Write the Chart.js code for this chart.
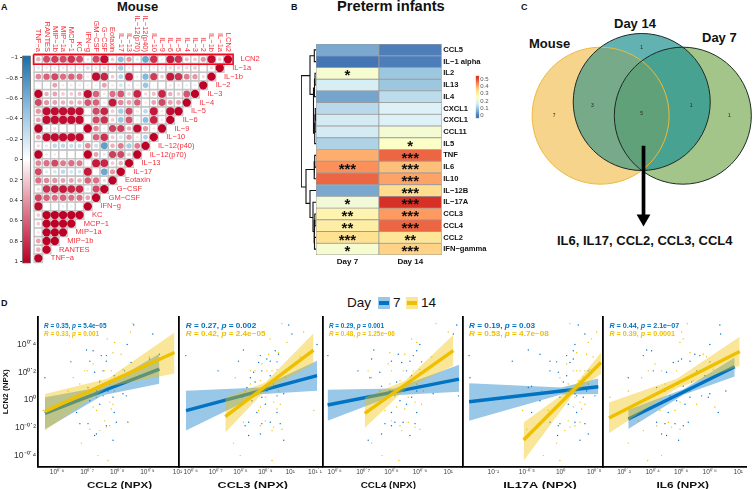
<!DOCTYPE html>
<html>
<head>
<meta charset="utf-8">
<title>LCN2 cytokine correlations</title>
<script src="https://cdn.jsdelivr.net/npm/chart.js@4/dist/chart.umd.min.js"></script>
<style>
  html, body { margin: 0; padding: 0; background: #fff; width: 756px; height: 489px; overflow: hidden; }
  canvas { position: absolute; left: 0; top: 0; }
  .lbl { position: absolute; font-family: "Liberation Sans", Arial, sans-serif; line-height: 1; white-space: nowrap; color: #111; }
  .b { font-weight: bold; }
  .swatch { position: absolute; width: 12px; height: 12px; }
  .swatch i { position: absolute; left: 1px; right: 1px; top: 4px; height: 3.5px; }
</style>
</head>
<body>
<div class="lbl b" style="left:1px;top:3px;font-size:9px">A</div>
<div class="lbl b" style="left:117px;top:0px;font-size:13px">Mouse</div>
<div class="lbl b" style="left:291px;top:3px;font-size:9px">B</div>
<div class="lbl b" style="left:337px;top:-1px;font-size:14.7px">Preterm infants</div>
<div class="lbl b" style="left:521px;top:3px;font-size:9px">C</div>
<div class="lbl b" style="left:529px;top:37px;font-size:13px">Mouse</div>
<div class="lbl b" style="left:614px;top:17px;font-size:13px">Day 14</div>
<div class="lbl b" style="left:702px;top:31px;font-size:13px">Day 7</div>
<div class="lbl b" style="left:557px;top:234px;font-size:13px">IL6, IL17, CCL2, CCL3, CCL4</div>
<div class="lbl b" style="left:1px;top:299px;font-size:9px">D</div>
<div class="lbl" style="left:347px;top:296px;font-size:13.5px">Day</div>
<div class="swatch" style="left:378px;top:297px;background:rgba(0,115,194,.4)"><i style="background:#0073C2"></i></div>
<div class="lbl" style="left:393px;top:296px;font-size:13.5px">7</div>
<div class="swatch" style="left:405.5px;top:297px;background:rgba(239,192,0,.4)"><i style="background:#EFC000"></i></div>
<div class="lbl" style="left:421px;top:296px;font-size:13.5px">14</div>

<script>
// A: mouse correlation matrix (upper triangle, one list per row)
const corrNames = ['TNF−a', 'RANTES', 'MIP−1b', 'MIP−1a', 'MCP−1', 'KC', 'IFN−g', 'GM−CSF', 'G−CSF', 'Eotaxin', 'IL−17', 'IL−13',
  'IL−12(p70)', 'IL−12(p40)', 'IL−10', 'IL−9', 'IL−6', 'IL−5', 'IL−4', 'IL−3', 'IL−2', 'IL−1b', 'IL−1a', 'LCN2'];
const corrTicks = [-1, -0.8, -0.6, -0.4, -0.2, 0, 0.2, 0.4, 0.6, 0.8, 1];
const corrLCN2 = [.3, .7, .75, .7, .8, .7, -.15, .7, .95, .2, -.5, .4, -.15, -.65, .8, -.1, .9, .8, .25, .2, .4, .95, .2, 1];
const corrIL1a = [-.15, .1, .1, .1, .1, .1, -.2, .1, .15, .1, -.4, .1, -.05, -.1, .1, .1, .15, .15, .15, .2, 0, .15, 1];
const corrIL1b = [.45, .6, .7, .55, .6, .55, .1, .95, .85, .2, -.35, .9, .1, -.55, .75, .2, .9, .8, .5, .4, .15, 1];
const corrIL2 = [0, .05, .35, .1, .1, .1, .08, -.1, .35, .1, -.2, .1, -.1, -.45, -.05, 0, .1, .1, -.1, -.1, 1];
const corrIL3 = [1, .3, .35, .2, .2, .25, .95, .6, .1, .55, .65, .2, .85, .15, .25, .85, .3, .2, .65, 1];
const corrIL4 = [.7, .4, .35, .3, .3, .3, .65, .6, .1, .9, .45, .35, .6, .1, .35, .7, .35, .35, 1];
const corrIL5 = [.4, .95, .95, .95, .95, .95, 0, .7, .85, .2, -.4, .7, .1, -.3, .9, .1, .95, 1];
const corrIL6 = [.35, .95, .95, .95, .95, .95, 0, .7, .8, .2, -.45, .65, -.1, -.5, .85, .1, 1];
const corrIL9 = [1, .1, .15, .03, 0, 0, 1, .45, -.1, .75, .75, .3, .95, .4, .1, 1];
const corrIL10 = [.35, .95, .95, .95, .95, .95, .03, .6, .8, .2, -.2, .4, .1, -.35, 1];
const corrP40 = [.15, -.15, -.3, -.3, -.25, -.25, .45, -.25, -.7, .3, .5, -.4, .5, 1];
const corrP70 = [1, .1, .1, .03, 0, 0, 1, .35, -.15, .75, .7, .2, 1];
const corrIL13 = [.45, .55, .7, .5, .55, .5, .05, .9, .85, .2, .3, 1];
const corrIL17 = [.7, -.15, -.2, -.3, -.2, -.2, .9, .05, -.65, .4, 1];
const corrEotaxin = [.55, .45, .4, .35, .35, .3, .6, .55, .15, 1];
const corrGCSF = [.15, .8, .85, .9, .85, .85, -.15, .7, 1];
const corrGMCSF = [.7, .6, .55, .6, .55, .55, .35, 1];
const corrIFNg = [.95, 0, -.05, -.1, -.1, -.03, 1];
const corrKC = [.2, 1, 1, 1, 1, 1];
const corrMCP1 = [.2, 1, 1, 1, 1];
const corrMIP1a = [.1, 1, 1, 1];
const corrMIP1b = [.35, 1, 1];
const corrRANTES = [.3, 1];
const corrTNFa = [1];
const corrRows = [corrLCN2, corrIL1a, corrIL1b, corrIL2, corrIL3, corrIL4, corrIL5, corrIL6, corrIL9, corrIL10, corrP40, corrP70,
  corrIL13, corrIL17, corrEotaxin, corrGCSF, corrGMCSF, corrIFNg, corrKC, corrMCP1, corrMIP1a, corrMIP1b, corrRANTES, corrTNFa];

// B: heatmap
const heatRows = ['CCL5', 'IL−1 alpha', 'IL2', 'IL13', 'IL4', 'CXCL1', 'CXCL1', 'CCL11', 'IL5', 'TNF', 'IL6', 'IL10', 'IL−12B', 'IL−17A', 'CCL3', 'CCL4', 'CCL2', 'IFN−gamma'];
const heatDay7 = [.06, 0, .235, .165, .055, .13, .16, .16, .12, .40, .43, .47, .06, .22, .29, .31, .345, .235];
const heatDay14 = [.01, .01, .10, .10, .135, .17, .17, .23, .25, .47, .38, .41, .35, .52, .42, .47, .33, .36];
const starsDay7 = ['', '', '*', '', '', '', '', '', '', '', '***', '', '', '*', '**', '**', '***', '*'];
const starsDay14 = ['', '', '', '', '', '', '', '', '*', '***', '***', '***', '***', '***', '***', '***', '**', '***'];
const heatLegendTicks = [0, 0.1, 0.2, 0.3, 0.4, 0.5];
// each branch: child height, child row, node height, other row, other child height
const dendroBranches = [
  [0, .5, 1.7, 1.5, 0], [0, 5.5, .7, 6.5, 0], [.7, 6, 1, 7.5, 0], [1, 6.75, 1.3, 8.5, 0], [0, 2.5, 1, 3.5, 0], [1, 3, 1.5, 4.5, 0],
  [1.5, 3.75, 2.5, 7.6, 1.3], [1.7, 1, 6, 4.3, 2.5], [0, 9.5, 1.3, 10.5, 0], [1.3, 10, 1.8, 11.5, 0], [0, 14.5, 1.2, 15.5, 0],
  [0, 16.5, 1.5, 17.5, 0], [1.2, 15, 2, 17, 1.5], [2, 16, 3, 13.5, 0], [3, 14.8, 6, 12.5, 0], [1.8, 10.7, 10, 13.6, 6], [6, 2.7, 14.7, 12.2, 10]
];

// C: venn
const vennX = [-.6, 0, .6];
const vennY = [0, .2, 0];
const vennCountX = [-1.28, -.72, 0, 0, .72, 1.28];
const vennCountY = [0, .15, .035, .99, .15, 0];
const vennCounts = ['7', '3', '5', '1', '1', '1'];
const arrowX = [.026, .026];
const arrowY = [-.44, -1.5];

// D: LCN2 is shared by the five panels, each panel has its own x values
const lcn2Ticks = [.4, .2, 0, -.2, -.4];
const lcn2Day7 = [.54, .475, .40, .36, .355, .33, .32, .32, .295, .28, .28, .275, .27, .21, .21, .20, .175, .16, .10, .09, .065, .065, .045, .03, .03, .02, .02, -.005, -.03, -.09, -.09, -.16, -.16, -.17, -.17, -.185, -.245, -.255, -.29, .13];
const lcn2Day14 = [.55, .49, .44, .415, .34, .33, .31, .26, .21, .21, .21, .21, .22, .16, .165, .115, .14, .115, .065, .02, -.015, -.03, -.05, -.065, -.075, -.15, -.16, -.185, -.195, -.21, -.22, -.31, -.40, -.435, .065, -.075];

const ccl2Day7 = [.855, .918, .833, .698, .72, .94, .747, .764, .907, .709, .764, .646, .846, .753, .824, .725, .79, .56, .80, .703, .731, .769, .819, .753, .83, .67, .786, .709, .742, .79, .665, .797, .835, .676, .703, .764, .731, .725, .786, .742];
const ccl2Day14 = [.852, .844, .767, .791, .786, .813, .907, .72, .692, .70, .758, .78, .819, .654, .808, .676, .742, .775, .637, .731, .775, .786, .72, .78, .555, .758, .835, .775, .764, .709, .742, .681, .736, .769, .791, .731];
const ccl3Day7 = [.994, 1.007, 1.108, .812, .94, .953, .88, .58, .906, .792, .92, .947, .873, .71, .886, .853, .92, .84, .933, .826, .866, .906, .974, .853, .947, .806, .886, .846, .9, .866, .947, .92, .833, .886, .96, .819, .88, .833, .974, .859];
const ccl3Day14 = [.967, 1.054, .92, .987, .953, .913, 1.04, .886, .84, .859, .906, .927, .947, .779, .98, .84, .88, .933, .819, .9, .933, .96, .88, .947, 1.095, .9, .812, .88, .933, .967, .927, .772, .799, .927, .953, .873];
const ccl4Day7 = [1.03, 1.018, .9, .738, .889, .824, .877, .576, .73, .8, .865, .906, .836, .682, .853, .759, .871, .724, .765, .836, .794, .889, .947, .812, 1.036, .783, .871, .83, .853, .8, .889, .841, .812, .777, .883, .8, .765, .865, .718, .818];
const ccl4Day14 = [.957, 1.0, .871, .889, .794, .847, .942, .788, .718, .8, .841, .877, .9, .73, .865, .794, .83, .889, .759, .859, .883, .906, .818, .847, .712, .8, .859, .83, .883, .9, .836, .73, .767, .826, .912, .777];
const il17Day7 = [.262, .361, .213, -.48, .188, -.307, .089, -1.36, .188, -.718, -.158, -.059, .139, -.158, .411, -.035, .089, -1.347, -.431, -.48, .139, .386, .213, .238, .51, -.01, .337, -.307, .114, -.431, .238, .213, -.158, -.01, .361, -.035, .411, -.045, .287, .04];
const il17Day14 = [.139, .535, .46, .411, .238, .386, .485, .089, .188, .238, .287, .361, .436, -.01, .337, .114, .262, .411, -.282, .213, .287, .361, .188, .312, -.564, .114, .287, .213, .139, -.505, .064, -.059, -.257, -.01, .238, -.183];
const il6Day7 = [.871, .876, .801, .359, .393, .696, .335, .731, .603, .58, .662, .801, .545, .405, .708, .498, .766, .23, .615, .428, .487, .913, .801, .522, .743, .662, .79, .568, .627, .86, .51, .65, .428, .557, .487, .615, .463, .498, .582, .673];
const il6Day14 = [.643, .603, .615, .592, .662, .755, .778, .417, .37, .463, .568, .731, .825, .324, .638, .487, .685, .58, .23, .102, .592, .708, .836, .207, .452, .3, .51, .428, .533, .592, .335, .23, .463, .366, .662, .557];

// regression lines with their confidence bands
const ccl2X7 = [.56, .752, .94], ccl2Fit7 = [-.096, .065, .223], ccl2Lo7 = [-.21, .035, .117], ccl2Hi7 = [.02, .095, .333];
const ccl2X14 = [.56, .77, .99], ccl2Fit14 = [-.082, .125, .342], ccl2Lo14 = [-.22, .095, .191], ccl2Hi14 = [.043, .155, .486];
const ccl3X7 = [.581, .879, 1.108], ccl3Fit7 = [-.077, .066, .175], ccl3Lo7 = [-.22, .042, .067], ccl3Hi7 = [.067, .09, .283];
const ccl3X14 = [.739, .9, 1.094], ccl3Fit14 = [-.12, .098, .36], ccl3Lo14 = [-.233, .069, .259], ccl3Hi14 = [.019, .127, .48];
const ccl4X7 = [.575, .81, 1.038], ccl4Fit7 = [-.036, .059, .151], ccl4Lo7 = [-.149, .035, .06], ccl4Hi7 = [.074, .083, .254];
const ccl4X14 = [.706, .85, 1.018], ccl4Fit14 = [-.096, .112, .355], ccl4Lo14 = [-.201, .082, .247], ccl4Hi14 = [.019, .142, .47];
const il17X7 = [-1.36, .01, .56], il17Fit7 = [-.012, .065, .096], il17Lo7 = [-.149, .04, .043], il17Hi7 = [.12, .09, .155];
const il17X14 = [-.55, .21, .6], il17Fit14 = [-.288, .081, .27], il17Lo14 = [-.437, .056, .187], il17Hi14 = [-.161, .106, .342];
const il6X7 = [.23, .62, .975], il6Fit7 = [-.137, .06, .24], il6Lo7 = [-.209, .04, .17], il6Hi7 = [-.07, .08, .306];
const il6X14 = [.095, .57, 1.01], il6Fit14 = [-.13, .119, .35], il6Lo14 = [-.24, .084, .247], il6Hi14 = [-.017, .154, .455];

const panelNames = ['CCL2 (NPX)', 'CCL3 (NPX)', 'CCL4 (NPX)', 'IL17A (NPX)', 'IL6 (NPX)'];
const panelTicks = [[.6, .7, .8, .9, 1], [.6, .7, .8, .9, 1, 1.1], [.6, .7, .8, .9, 1], [-1, -.5, 0, .5], [.2, .4, .6, .8, 1]];
const rDay7 = ['0.35', '0.27', '0.29', '0.19', '0.44'];
const pDay7 = ['5.4e−05', '0.002', '0.001', '0.03', '2.1e−07'];
const rDay14 = ['0.33', '0.42', '0.48', '0.53', '0.39'];
const pDay14 = ['0.001', '2.4e−05', '1.25e−06', '4.7e−08', '0.0001'];

// ---- layout of the figure, pixels
const W = 756, H = 489;
const FONT = '"Liberation Sans", Arial, sans-serif';
const BLUE = '#0073C2', YELLOW = '#EFC000';
const panelLeft = [37.7, 179.3, 322.5, 462.7, 603];
const panelRight = [179.3, 322.5, 462.7, 603, 746.7];
const panelXMin = [.536, .554, .557, -1.455, .053];
const panelXMax = [1.006, 1.13, 1.051, .63, 1.059];
const statStretch = [1, 1.28, 1, 1.28, 1.12];
const nameStretch = [1.25, 1.35, 1.06, 1.38, 1.27];
const nameCenter = [119.5, 252.8, 388.3, 540, 682.7];

Chart.defaults.animation = false;
Chart.defaults.responsive = false;
Chart.defaults.events = [];
Chart.defaults.font.family = FONT;
Chart.defaults.plugins.legend.display = false;
Chart.defaults.plugins.tooltip.enabled = false;

function addCanvas() {
  const c = document.createElement('canvas');
  c.width = W;
  c.height = H;
  document.body.appendChild(c);
  return c;
}

function box(left, top, right, bottom) {
  return { autoPadding: false, padding: { left, top, right: W - right, bottom: H - bottom } };
}

// fixed room for an axis, so the plot area lands where it should
function room(size) {
  return s => {
    if (s.isHorizontal()) s.height = size; else s.width = size;
    s.paddingLeft = s.paddingRight = s.paddingTop = s.paddingBottom = 0;
  };
}

function mix(a, b, t) {
  const pa = [1, 3, 5].map(i => parseInt(a.slice(i, i + 2), 16));
  const pb = [1, 3, 5].map(i => parseInt(b.slice(i, i + 2), 16));
  return 'rgb(' + pa.map((v, i) => Math.round(v + (pb[i] - v) * t)).join(',') + ')';
}

function corrColor(v) {
  const t = Math.abs(v);
  if (v < 0) return t < .5 ? mix('#ffffff', '#8DC0E0', t / .5) : mix('#8DC0E0', '#1A70AC', (t - .5) / .5);
  return t < .5 ? mix('#ffffff', '#E07A8F', t / .5) : mix('#E07A8F', '#BE0026', (t - .5) / .5);
}

const heatStops = ['#4575B4', '#91BFDB', '#E0F3F8', '#FFFFBF', '#FEE090', '#FC8D59', '#D73027'];
function heatColor(v) {
  const p = Math.max(0, Math.min(1, v / .52)) * 6;
  const i = Math.min(5, Math.floor(p));
  return mix(heatStops[i], heatStops[i + 1], p - i);
}

function powerLabel(v) {
  const sup = { '0': '⁰', '1': '¹', '2': '²', '3': '³', '4': '⁴', '5': '⁵', '6': '⁶', '7': '⁷', '8': '⁸', '9': '⁹', '.': '˙', '-': '⁻' };
  return '10' + String(v).split('').map(ch => sup[ch]).join('');
}

// ---- A: correlation circles
const cellPoints = [], circlePoints = [];
corrRows.forEach((row, r) => row.forEach((v, c) => {
  cellPoints.push({ x: c, y: r });
  circlePoints.push({ x: c, y: r, v });
}));

new Chart(addCanvas(), {
  type: 'scatter',
  data: {
    datasets: [
      { data: [{ x: -.58, y: -.57 }, { x: 23.62, y: -.57 }, { x: 23.62, y: .57 }, { x: -.58, y: .57 }, { x: -.58, y: -.57 }],
        showLine: true, borderColor: '#EE0A1C', borderWidth: 1.6, pointRadius: 0, clip: false },
      { data: circlePoints, pointStyle: 'circle', borderWidth: 0,
        pointRadius: c => 4.15 * Math.sqrt(Math.abs(c.raw.v)),
        backgroundColor: c => corrColor(c.raw.v) },
      { data: cellPoints, pointStyle: 'rect', pointRadius: 5.95, backgroundColor: '#fff', borderColor: '#c6c6c6', borderWidth: 1.4, clip: false }
    ]
  },
  options: {
    layout: box(34.2, 55, 232.1, 262.6),
    scales: {
      x: { type: 'linear', min: -.5, max: 23.5, display: false },
      y: { type: 'linear', min: -.5, max: 23.5, reverse: true, display: false }
    }
  },
  plugins: [{
    id: 'corrLabels',
    afterDraw(chart) {
      const { ctx, scales: { x, y } } = chart;
      ctx.save();
      ctx.font = '7.5px ' + FONT;
      ctx.fillStyle = '#F2303A';
      ctx.textBaseline = 'middle';
      corrNames.forEach((name, c) => {
        // column name on top, reads downwards
        ctx.save();
        ctx.translate(x.getPixelForValue(c), 52);
        ctx.rotate(Math.PI / 2);
        ctx.textAlign = 'right';
        ctx.fillText(name, 0, 0);
        ctx.restore();
        // row name next to the diagonal
        const r = 23 - c;
        ctx.textAlign = 'left';
        ctx.fillText(name, x.getPixelForValue(c) + 12.5, y.getPixelForValue(r));
      });
      ctx.restore();
    }
  }]
});

// colour key of A
new Chart(addCanvas(), {
  type: 'bar',
  data: {
    labels: [''],
    datasets: [{
      data: [[-1.02, 1.02]],
      barPercentage: 1,
      categoryPercentage: 1,
      borderColor: '#444',
      borderWidth: 1,
      borderSkipped: false,
      backgroundColor: c => {
        const { chart } = c;
        if (!chart.chartArea) return '#fff';
        const y = chart.scales.y;
        const g = chart.ctx.createLinearGradient(0, y.getPixelForValue(-1), 0, y.getPixelForValue(1));
        for (let i = 0; i <= 20; i++) g.addColorStop(i / 20, corrColor(-1 + i / 10));
        return g;
      }
    }]
  },
  options: {
    layout: box(0, 55.5, 30.7, 263.5),
    scales: {
      x: { display: false },
      y: {
        min: -1.02, max: 1.02, reverse: true, afterFit: room(22.3),
        afterBuildTicks: s => { s.ticks = corrTicks.map(value => ({ value })); },
        grid: { drawOnChartArea: false, tickLength: 2, color: '#222' },
        border: { display: false },
        ticks: { autoSkip: false, padding: 2.5, font: { size: 6 }, color: '#222', callback: v => String(v).replace('-', '−') }
      }
    }
  }
});

// ---- B: dendrogram, heatmap, colour key
new Chart(addCanvas(), {
  type: 'scatter',
  data: {
    datasets: dendroBranches.map(b => ({
      data: [{ x: b[0], y: b[1] }, { x: b[2], y: b[1] }, { x: b[2], y: b[3] }, { x: b[4], y: b[3] }],
      showLine: true, borderColor: '#111', borderWidth: 1.1, pointRadius: 0
    }))
  },
  options: {
    layout: box(301, 44, 316, 255),
    scales: {
      x: { type: 'linear', min: 0, max: 15, reverse: true, display: false },
      y: { type: 'linear', min: 0, max: 18, reverse: true, display: false }
    }
  }
});

new Chart(addCanvas(), {
  type: 'bar',
  data: {
    labels: heatRows,
    datasets: [heatDay7, heatDay14].map(vals => ({
      data: vals.map(() => 1),
      backgroundColor: vals.map(heatColor),
      borderColor: '#9c9c9c',
      borderWidth: .8,
      borderSkipped: false,
      barPercentage: 1,
      categoryPercentage: 1
    }))
  },
  options: {
    indexAxis: 'y',
    layout: box(316, 44, 500, 270),
    scales: {
      x: {
        type: 'linear', stacked: true, min: 0, max: 2, afterFit: room(15),
        afterBuildTicks: s => { s.ticks = [.5, 1.5].map(value => ({ value })); },
        grid: { display: false, drawTicks: false }, border: { display: false },
        ticks: { autoSkip: false, maxRotation: 0, padding: 2, color: '#111', font: { size: 8, weight: 'bold' }, callback: v => (v < 1 ? 'Day 7' : 'Day 14') }
      },
      y: {
        position: 'right', stacked: true, afterFit: room(58.3),
        grid: { display: false, drawTicks: false }, border: { display: false },
        ticks: { autoSkip: false, padding: 1.5, color: '#111', font: { size: 7.6, weight: 'bold' } }
      }
    }
  },
  plugins: [{
    id: 'stars',
    afterDraw(chart) {
      const { ctx, scales: { x, y } } = chart;
      ctx.save();
      ctx.font = 'bold 15px ' + FONT;
      ctx.fillStyle = '#111';
      ctx.textAlign = 'center';
      ctx.textBaseline = 'middle';
      [starsDay7, starsDay14].forEach((stars, d) => stars.forEach((s, i) => {
        if (s) ctx.fillText(s, x.getPixelForValue(d + .5), y.getPixelForValue(i) + 3);
      }));
      ctx.restore();
    }
  }]
});

new Chart(addCanvas(), {
  type: 'bar',
  data: {
    labels: [''],
    datasets: [{
      data: [[-.035, .545]],
      barPercentage: 1,
      categoryPercentage: 1,
      backgroundColor: c => {
        const { chart } = c;
        if (!chart.chartArea) return '#fff';
        const y = chart.scales.y;
        const g = chart.ctx.createLinearGradient(0, y.getPixelForValue(-.035), 0, y.getPixelForValue(.545));
        for (let i = 0; i <= 12; i++) g.addColorStop(i / 12, heatColor(-.035 + .58 * i / 12));
        return g;
      }
    }]
  },
  options: {
    layout: box(475.7, 75.7, 500, 118.3),
    scales: {
      x: { display: false },
      y: {
        position: 'right', min: -.035, max: .545, afterFit: room(20.8),
        afterBuildTicks: s => { s.ticks = heatLegendTicks.map(value => ({ value })); },
        grid: { display: false, drawTicks: false }, border: { display: false },
        ticks: { autoSkip: false, padding: 1, color: '#555', font: { size: 6 } }
      }
    }
  }
});

// ---- C: venn diagram
const vennR = 68.5;
const vennPoint = i => ({ x: vennX[i], y: vennY[i], r: vennR });
new Chart(addCanvas(), {
  type: 'bubble',
  data: {
    datasets: [
      { type: 'scatter', data: [{ x: arrowX[1], y: arrowY[1] }], pointStyle: 'triangle', rotation: 180, pointRadius: 8, backgroundColor: '#000', borderWidth: 0 },
      { type: 'scatter', data: [{ x: arrowX[0], y: arrowY[0] }, { x: arrowX[1], y: arrowY[1] }], showLine: true, borderColor: '#000', borderWidth: 3.7, pointRadius: 0 },
      { data: [vennPoint(0), vennPoint(1), vennPoint(2)], backgroundColor: 'rgba(0,0,0,0)', borderColor: ['#EDB93A', '#1c2b24', '#1c2b24'], borderWidth: 1, clip: false },
      { data: [vennPoint(0)], backgroundColor: 'rgba(240,185,70,.15)', borderWidth: 0, clip: false },
      { data: [vennPoint(1)], backgroundColor: 'rgba(38,148,148,.72)', borderWidth: 0, clip: false },
      { data: [vennPoint(2)], backgroundColor: 'rgba(90,150,40,.55)', borderWidth: 0, clip: false },
      { data: [vennPoint(0)], backgroundColor: 'rgba(240,185,70,.55)', borderWidth: 0, clip: false }
    ]
  },
  options: {
    layout: box(510, 0, 756, 260),
    scales: {
      x: { type: 'linear', min: -1.923, max: 1.668, display: false },
      y: { type: 'linear', min: -2.107, max: 1.689, display: false }
    }
  },
  plugins: [{
    id: 'vennCounts',
    afterDatasetsDraw(chart) {
      const { ctx, scales: { x, y } } = chart;
      ctx.save();
      ctx.font = '5px ' + FONT;
      ctx.fillStyle = '#222';
      ctx.textAlign = 'center';
      ctx.textBaseline = 'middle';
      vennCounts.forEach((t, i) => ctx.fillText(t, x.getPixelForValue(vennCountX[i]), y.getPixelForValue(vennCountY[i])));
      ctx.restore();
    }
  }]
});

// ---- D: five regression panels
function zipXY(xs, ys) {
  return xs.map((x, i) => ({ x, y: ys[i] }));
}

function drawStat(ctx, x, y, stretch, r, p, color) {
  ctx.save();
  ctx.translate(x, y);
  ctx.scale(stretch, 1);
  ctx.fillStyle = color;
  ctx.textBaseline = 'middle';
  ctx.textAlign = 'left';
  let at = 0;
  [['R', 1], [' = ' + r + ', ', 0], ['p', 1], [' = ' + p, 0]].forEach(([t, it]) => {
    ctx.font = (it ? 'italic ' : '') + 'bold 6.4px ' + FONT;
    ctx.fillText(t, at, 0);
    at += ctx.measureText(t).width;
  });
  ctx.restore();
}

function regressionPanel(i, xs7, xs14, line7, line14) {
  const bandPair = (xs, hi, lo, color) => [
    { data: zipXY(xs, hi), showLine: true, fill: '+1', backgroundColor: color, borderWidth: 0, pointRadius: 0 },
    { data: zipXY(xs, lo), showLine: true, borderWidth: 0, pointRadius: 0 }
  ];
  new Chart(addCanvas(), {
    type: 'scatter',
    data: {
      datasets: [
        { data: zipXY(line14.x, line14.fit), showLine: true, borderColor: YELLOW, borderWidth: 3.4, pointRadius: 0 },
        ...bandPair(line14.x, line14.hi, line14.lo, 'rgba(239,192,0,.4)'),
        { data: zipXY(line7.x, line7.fit), showLine: true, borderColor: BLUE, borderWidth: 3.4, pointRadius: 0 },
        ...bandPair(line7.x, line7.hi, line7.lo, 'rgba(0,115,194,.4)'),
        { data: zipXY(xs14, lcn2Day14), pointRadius: .7, backgroundColor: YELLOW, borderWidth: 0 },
        { data: zipXY(xs7, lcn2Day7), pointRadius: .7, backgroundColor: BLUE, borderWidth: 0 }
      ]
    },
    options: {
      layout: box(i === 0 ? 0 : panelLeft[i], 316.7, panelRight[i], H),
      scales: {
        x: {
          type: 'linear', min: panelXMin[i], max: panelXMax[i], afterFit: room(22.3),
          afterBuildTicks: s => { s.ticks = panelTicks[i].map(value => ({ value })); },
          grid: { display: false, drawTicks: false },
          border: { display: true, color: '#000', width: 1.8 },
          ticks: { autoSkip: false, maxRotation: 0, padding: 1.5, color: '#444', font: { size: 6.6 }, callback: powerLabel }
        },
        y: {
          type: 'linear', min: -.48, max: .6,
          afterFit: room(i === 0 ? panelLeft[0] : 0),
          afterBuildTicks: s => { s.ticks = lcn2Ticks.map(value => ({ value })); },
          grid: { display: false, drawTicks: false },
          border: { display: true, color: '#000', width: 1.8 },
          title: { display: i === 0, text: 'LCN2 (NPX)', color: '#111', padding: { top: 2, bottom: 0 }, font: { size: 8, weight: 'bold', lineHeight: 1 } },
          ticks: { display: i === 0, autoSkip: false, padding: 1.5, color: '#333', font: { size: 8.6 }, callback: powerLabel }
        }
      }
    },
    plugins: [{
      id: 'panelText',
      afterDraw(chart) {
        const { ctx, chartArea } = chart;
        drawStat(ctx, chartArea.left + 6.4, 326, statStretch[i], rDay7[i], pDay7[i], BLUE);
        drawStat(ctx, chartArea.left + 6.4, 333.8, statStretch[i], rDay14[i], pDay14[i], YELLOW);
        ctx.save();
        ctx.translate(nameCenter[i], 485);
        ctx.scale(nameStretch[i], 1);
        ctx.font = 'bold 9.3px ' + FONT;
        ctx.fillStyle = '#111';
        ctx.textAlign = 'center';
        ctx.textBaseline = 'middle';
        ctx.fillText(panelNames[i], 0, 0);
        ctx.restore();
      }
    }]
  });
}

regressionPanel(0, ccl2Day7, ccl2Day14,
  { x: ccl2X7, fit: ccl2Fit7, lo: ccl2Lo7, hi: ccl2Hi7 }, { x: ccl2X14, fit: ccl2Fit14, lo: ccl2Lo14, hi: ccl2Hi14 });
regressionPanel(1, ccl3Day7, ccl3Day14,
  { x: ccl3X7, fit: ccl3Fit7, lo: ccl3Lo7, hi: ccl3Hi7 }, { x: ccl3X14, fit: ccl3Fit14, lo: ccl3Lo14, hi: ccl3Hi14 });
regressionPanel(2, ccl4Day7, ccl4Day14,
  { x: ccl4X7, fit: ccl4Fit7, lo: ccl4Lo7, hi: ccl4Hi7 }, { x: ccl4X14, fit: ccl4Fit14, lo: ccl4Lo14, hi: ccl4Hi14 });
regressionPanel(3, il17Day7, il17Day14,
  { x: il17X7, fit: il17Fit7, lo: il17Lo7, hi: il17Hi7 }, { x: il17X14, fit: il17Fit14, lo: il17Lo14, hi: il17Hi14 });
regressionPanel(4, il6Day7, il6Day14,
  { x: il6X7, fit: il6Fit7, lo: il6Lo7, hi: il6Hi7 }, { x: il6X14, fit: il6Fit14, lo: il6Lo14, hi: il6Hi14 });
</script>
</body>
</html>
